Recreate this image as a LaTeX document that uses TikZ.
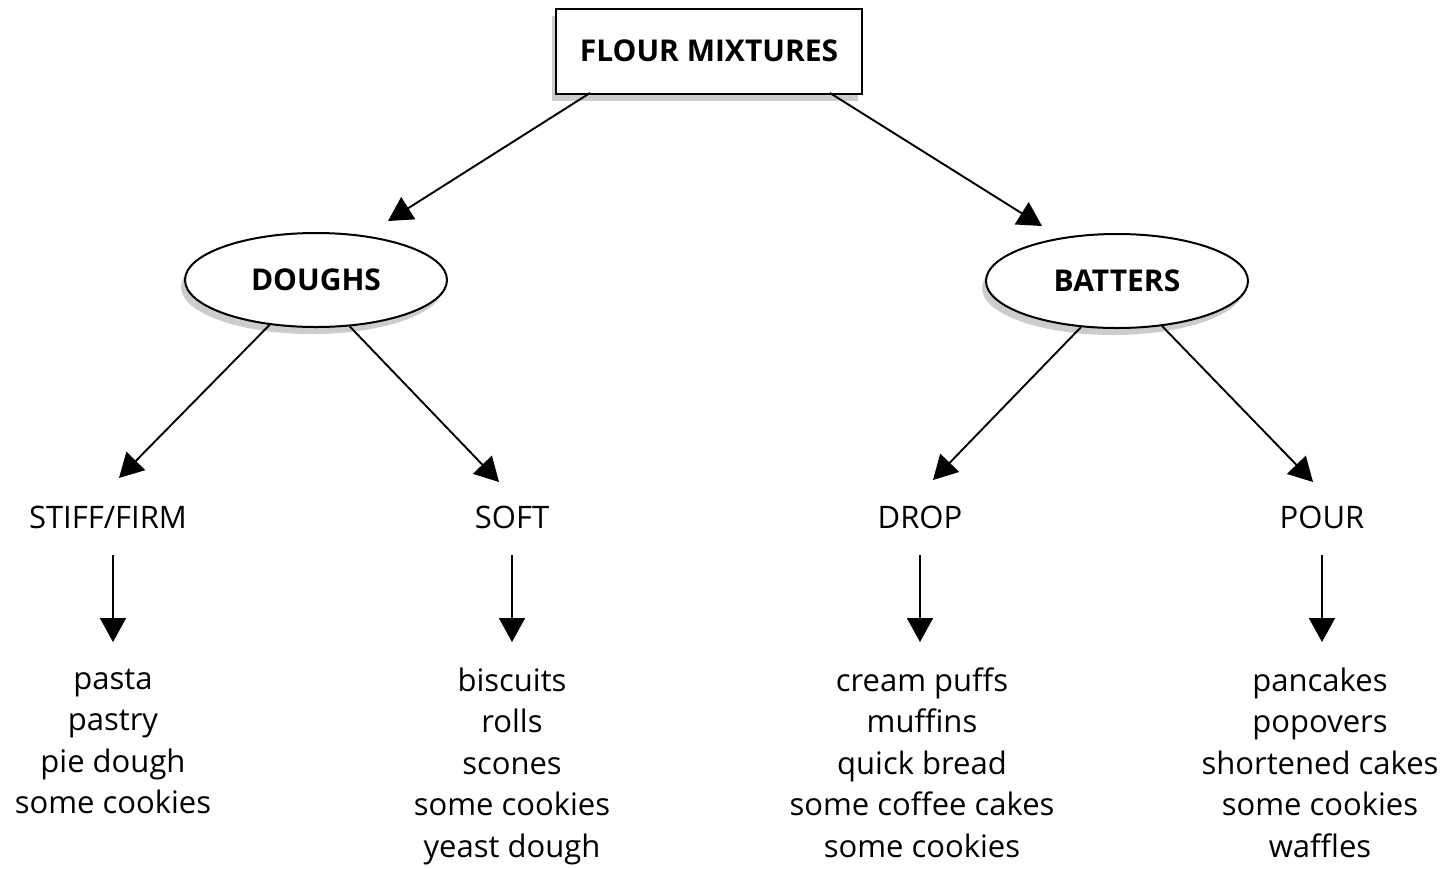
\documentclass[tikz,border=0pt]{standalone}
\usepackage{fontspec}
\setmainfont{Open Sans}
\usetikzlibrary{arrows.meta,shapes.geometric,shadows}
\begin{document}
\begin{tikzpicture}[x=1pt,y=-1pt,
  conn/.style={line width=1.9pt,-{Triangle[width=26pt,length=24pt]}},
  shad/.style={drop shadow={shadow xshift=-4pt,shadow yshift=-7pt,fill=gray!40,opacity=1}},
  topbox/.style={draw,line width=2pt,fill=white,shad,minimum width=306pt,minimum height=85pt,font=\fontsize{30}{36}\selectfont\bfseries},
  oval/.style={ellipse,draw,line width=2pt,fill=white,shad,minimum width=262pt,minimum height=94pt,inner sep=0pt,font=\fontsize{30}{36}\selectfont\bfseries},
  cat/.style={anchor=base,font=\fontsize{31}{36}\selectfont},
  items/.style={align=center,anchor=north,inner sep=0pt,font=\fontsize{31}{41.5}\selectfont}]
\useasboundingbox (0,0) rectangle (1448,868);
\node[topbox] (fm) at (709,51) {FLOUR MIXTURES};
\node[oval] (dough) at (316,280) {DOUGHS};
\node[oval] (batt) at (1117,281) {BATTERS};
\node[cat] (stiff) at (108,528) {STIFF/FIRM};
\node[cat] (soft) at (512,528) {SOFT};
\node[cat] (drop) at (920,528) {DROP};
\node[cat] (pour) at (1322,528) {POUR};
\node[items] (l1) at (113,660) {\strut pasta\\pastry\\pie dough\\some cookies};
\node[items] (l2) at (512,662) {\strut biscuits\\rolls\\scones\\some cookies\\yeast dough};
\node[items] (l3) at (922,662) {\strut cream puffs\\muffins\\quick bread\\some coffee cakes\\some cookies};
\node[items] (l4) at (1320,662) {\strut pancakes\\popovers\\shortened cakes\\some cookies\\waffles};
\coordinate (s1) at (590,93);
\coordinate (s2) at (830,93);
\coordinate (t1) at (388,221);
\coordinate (t2) at (1042,226);
\coordinate (t3) at (119,478);
\coordinate (t4) at (499,482);
\coordinate (t5) at (933,480);
\coordinate (t6) at (1313,482);
\coordinate (a1) at (113,642);
\coordinate (a2) at (512,642);
\coordinate (a3) at (920,642);
\coordinate (a4) at (1322,642);
\draw[conn] (s1) -- (t1);
\draw[conn] (s2) -- (t2);
\draw[conn] (dough.-136) -- (t3);
\draw[conn] (dough.-54) -- (t4);
\draw[conn] (batt.-128) -- (t5);
\draw[conn] (batt.-45) -- (t6);
\draw[conn] (stiff.base -| a1) ++(0,27) -- (a1);
\draw[conn] (soft.base -| a2) ++(0,27) -- (a2);
\draw[conn] (drop.base -| a3) ++(0,27) -- (a3);
\draw[conn] (pour.base -| a4) ++(0,27) -- (a4);
\end{tikzpicture}
\end{document}
